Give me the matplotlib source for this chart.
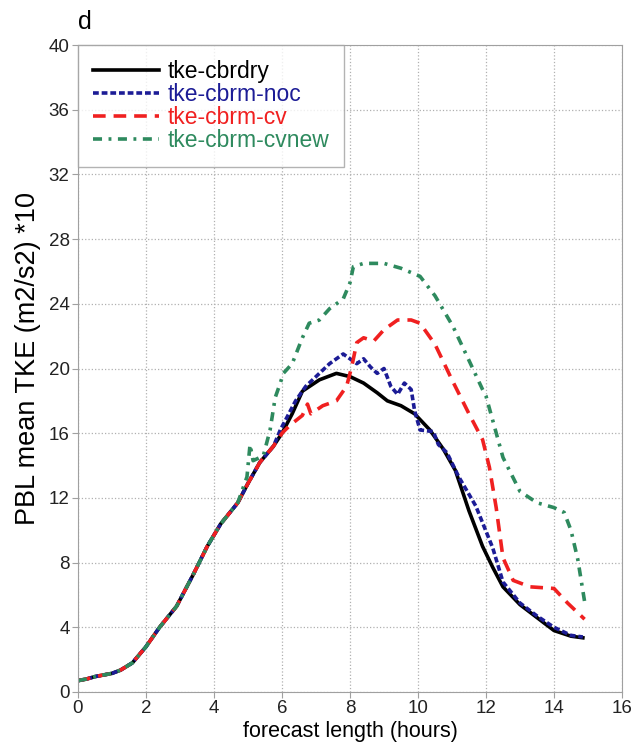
import matplotlib
matplotlib.use('Agg')
import matplotlib.pyplot as plt

plt.rcParams['font.family'] = ['Liberation Sans', 'DejaVu Sans']

# shared spin-up part of all runs (hours, TKE*10)
x_start = [0, 0.25, 0.5, 0.75, 1.0, 1.25, 1.6, 2.0, 2.4, 2.9, 3.4, 3.8, 4.2, 4.7]
y_start = [0.7, 0.8, 0.95, 1.05, 1.15, 1.35, 1.8, 2.8, 4.0, 5.3, 7.3, 9.0, 10.4, 11.7]

# tke-cbrdry
x_dry = x_start + [5.0, 5.35, 5.75, 6.0, 6.3, 6.6, 7.1, 7.6, 8.0, 8.4, 8.8, 9.1, 9.5,
                   9.9, 10.35, 10.75, 11.1, 11.5, 11.9, 12.2, 12.5, 13.0, 13.5, 14.0,
                   14.5, 14.85]
y_dry = y_start + [12.9, 14.2, 15.2, 16.0, 17.2, 18.6, 19.3, 19.7, 19.5, 19.1, 18.5, 18.0,
                   17.7, 17.2, 16.2, 15.0, 13.7, 11.2, 9.0, 7.7, 6.5, 5.4, 4.6, 3.8,
                   3.45, 3.35]

# tke-cbrm-noc
x_noc = x_start + [5.0, 5.35, 5.75, 5.95, 6.4, 6.7, 7.0, 7.4, 7.8, 8.0, 8.2, 8.4, 8.6,
                   8.8, 9.0, 9.2, 9.4, 9.6, 9.8, 9.9, 10.06, 10.45, 10.6, 10.85, 11.2,
                   11.7, 12.2, 12.5, 13.0, 13.5, 14.0, 14.5, 14.85]
y_noc = y_start + [12.9, 14.2, 15.2, 16.2, 18.0, 18.9, 19.5, 20.3, 20.9, 20.6, 20.3, 20.6,
                   20.1, 19.7, 20.0, 18.9, 18.4, 19.1, 18.7, 17.4, 16.2, 16.1, 15.3,
                   14.8, 13.3, 11.5, 8.9, 6.8, 5.5, 4.7, 4.0, 3.5, 3.4]

# tke-cbrm-cv
x_cv = x_start + [5.0, 5.35, 5.75, 6.0, 6.24, 6.6, 6.75, 6.85, 7.2, 7.6, 7.9, 8.05, 8.2,
                  8.4, 8.7, 9.0, 9.4, 9.8, 10.06, 10.5, 11.0, 11.5, 11.9, 12.1, 12.3,
                  12.5, 12.8, 13.3, 14.0, 14.4, 14.9]
y_cv = y_start + [12.9, 14.2, 15.2, 16.0, 16.5, 17.1, 17.8, 17.2, 17.7, 18.0, 18.9, 20.1,
                  21.6, 21.9, 21.7, 22.4, 23.0, 23.0, 22.8, 21.5, 19.3, 17.2, 15.6,
                  13.9, 11.4, 8.3, 6.9, 6.5, 6.4, 5.5, 4.5]

# tke-cbrm-cvnew
x_new = x_start + [4.97, 5.06, 5.15, 5.45, 5.65, 5.8, 5.95, 6.04, 6.3, 6.6, 6.8, 7.1, 7.4,
                   7.8, 8.0, 8.1, 8.4, 9.0, 9.5, 10.06, 10.5, 11.03, 11.5, 11.9, 12.0,
                   12.5, 13.0, 13.5, 14.0, 14.3, 14.5, 14.7, 14.9]
y_new = y_start + [13.3, 15.3, 14.3, 14.6, 16.2, 18.2, 19.1, 19.7, 20.3, 21.9, 22.8, 23.0,
                   23.7, 24.3, 25.3, 26.3, 26.5, 26.5, 26.2, 25.7, 24.5, 22.6, 20.5,
                   18.7, 18.3, 14.5, 12.4, 11.7, 11.4, 11.1, 10.0, 8.2, 5.6]

colors = ['black', '#1c1c96', '#f02020', '#2e8a5e']

fig = plt.figure(figsize=(6.43, 7.51), dpi=100)
ax = fig.add_axes([0.1213, 0.0786, 0.846, 0.8614])

ax.plot(x_dry, y_dry, color=colors[0], lw=2.6, label='tke-cbrdry')
ax.plot(x_noc, y_noc, color=colors[1], lw=2.6, ls=(0, (1.6, 0.8)), label='tke-cbrm-noc')
ax.plot(x_cv, y_cv, color=colors[2], lw=2.6, ls=(0, (3.5, 2.2)), label='tke-cbrm-cv')
ax.plot(x_new, y_new, color=colors[3], lw=2.6, ls=(0, (2.5, 1.8, 0.8, 1.8)),
        label='tke-cbrm-cvnew')

ax.set_xlim(0, 16)
ax.set_ylim(0, 40)
ax.set_xticks(range(0, 17, 2))
ax.set_yticks(range(0, 41, 4))
ax.grid(True, color='#b0b0b0', ls=':', lw=0.9)
for s in ax.spines.values():
    s.set_color('#a0a0a0')
ax.tick_params(colors='#a0a0a0', labelcolor='#222222', labelsize=13.5, length=4, pad=2)

ax.set_xlabel('forecast length (hours)', fontsize=15.5, labelpad=3)
ax.set_ylabel('PBL mean TKE (m2/s2) *10', fontsize=19.5)
ax.yaxis.set_label_coords(-0.068, 0.515)
fig.text(0.122, 0.962, 'd', fontsize=18)

leg = ax.legend(loc='upper left', fontsize=16.5, frameon=True, fancybox=False,
                borderaxespad=0, handlelength=2.9, handletextpad=0.35,
                labelspacing=0.0, borderpad=0.65)
leg.get_frame().set_edgecolor('#a0a0a0')
leg.get_frame().set_linewidth(1.0)
for txt, col in zip(leg.get_texts(), colors):
    txt.set_color(col)

fig.savefig('out.png', dpi=100)
